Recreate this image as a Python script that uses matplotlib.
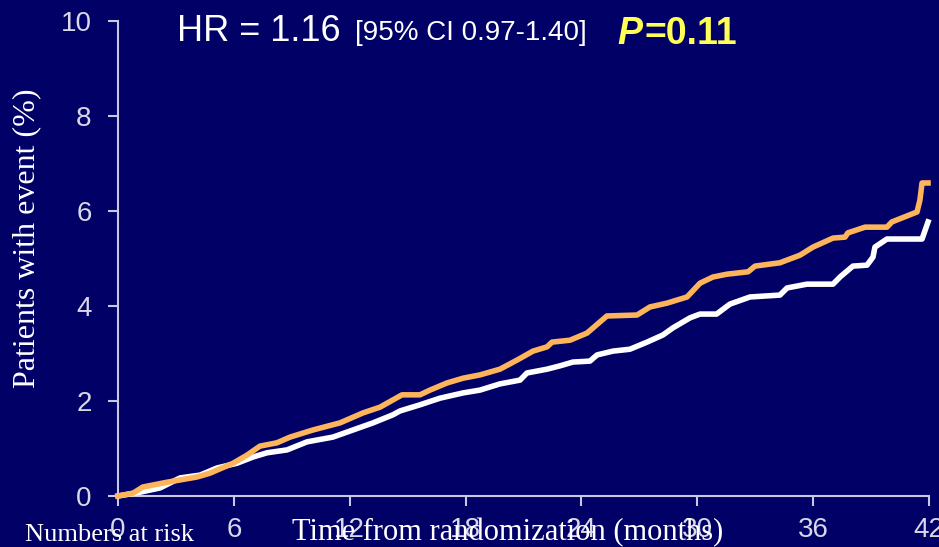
import matplotlib
matplotlib.use('Agg')
import matplotlib.pyplot as plt

# Kaplan-Meier style cumulative event curves (months, % with event)
orange_months = [0, 0.78, 1.29, 2.54, 4.09, 4.76, 5.96, 6.68, 7.35, 8.23, 8.91, 10.10,
                 11.50, 12.69, 13.57, 14.71, 15.64, 16.16, 17.04, 17.87, 18.75, 19.78,
                 20.66, 21.49, 22.22, 22.48, 23.41, 24.29, 25.32, 26.88, 27.55, 28.43,
                 29.47, 30.14, 30.81, 31.54, 32.63, 32.99, 34.28, 35.32, 35.99, 37.03,
                 37.65, 37.80, 38.69, 39.82, 40.08, 41.38, 41.53, 41.64, 41.95]
orange_pct = [0, 0.06, 0.19, 0.29, 0.40, 0.48, 0.69, 0.86, 1.05, 1.12, 1.24, 1.39,
              1.54, 1.75, 1.87, 2.13, 2.13, 2.23, 2.38, 2.48, 2.55, 2.67,
              2.86, 3.05, 3.14, 3.24, 3.28, 3.43, 3.79, 3.81, 3.98, 4.06,
              4.19, 4.48, 4.61, 4.67, 4.72, 4.84, 4.91, 5.07, 5.24, 5.43,
              5.45, 5.54, 5.66, 5.66, 5.77, 5.98, 6.23, 6.59, 6.59]

white_months = [0, 1.14, 2.18, 3.21, 4.25, 5.13, 6.16, 6.99, 7.72, 8.75, 9.79, 11.13,
                12.17, 13.21, 14.24, 14.60, 15.64, 16.68, 17.87, 18.75, 19.78, 20.82,
                21.18, 22.22, 22.89, 23.56, 24.44, 24.81, 25.63, 26.51, 27.40, 28.22,
                28.74, 29.62, 30.14, 31.0, 31.69, 32.73, 34.28, 34.65, 35.68, 37.03,
                37.39, 38.06, 38.79, 39.10, 39.20, 39.82, 41.64, 41.95]
white_pct = [0, 0.08, 0.17, 0.38, 0.44, 0.59, 0.69, 0.82, 0.91, 0.97, 1.14, 1.24,
             1.39, 1.54, 1.71, 1.79, 1.92, 2.06, 2.17, 2.23, 2.36, 2.44,
             2.59, 2.67, 2.74, 2.82, 2.84, 2.97, 3.05, 3.09, 3.24, 3.39,
             3.54, 3.75, 3.83, 3.83, 4.04, 4.19, 4.23, 4.38, 4.46, 4.46,
             4.61, 4.84, 4.86, 5.03, 5.24, 5.41, 5.41, 5.77]

x_ticks = [0, 6, 12, 18, 24, 30, 36, 42]
y_ticks = [0, 2, 4, 6, 8, 10]

bg = '#000066'
axis_col = '#C8C8E4'
W, H = 939, 547

fig = plt.figure(figsize=(W / 100, H / 100), dpi=100)
fig.patch.set_facecolor(bg)
ax = fig.add_axes([118 / W, 1 - 496 / H, (929 - 118) / W, (496 - 21) / H])
ax.set_facecolor(bg)

ax.plot(white_months, white_pct, color='white', lw=4,
        solid_joinstyle='round', clip_on=False, zorder=3)
ax.plot(orange_months, orange_pct, color='#FDB45A', lw=4,
        solid_joinstyle='round', clip_on=False, zorder=4)

ax.set_xlim(0, 42)
ax.set_ylim(0, 10)
ax.set_xticks(x_ticks)
ax.set_yticks(y_ticks)
for s in ['top', 'right']:
    ax.spines[s].set_visible(False)
for s in ['left', 'bottom']:
    ax.spines[s].set_color(axis_col)
    ax.spines[s].set_linewidth(1.5)
ax.tick_params(colors=axis_col, length=7, width=1.5, labelcolor='#D8D8E8',
               labelsize=20)
ax.tick_params(axis='y', pad=12)
ax.tick_params(axis='x', pad=8)
for lab in ax.get_xticklabels() + ax.get_yticklabels():
    lab.set_family('Liberation Sans')

serif = 'Liberation Serif'
fig.text(27 / W, 1 - 238 / H, 'Patients with event (%)', rotation=90, color='white',
         family=serif, fontsize=23, ha='center', va='center')
fig.text(508 / W, 1 - 540 / H, 'Time from randomization (months)', color='white',
         family=serif, fontsize=22, ha='center', va='baseline')
fig.text(25 / W, 1 - 541 / H, 'Numbers at risk', color='white',
         family=serif, fontsize=19, ha='left', va='baseline')

sans = 'Liberation Sans'
fig.text(177 / W, 1 - 41 / H, 'HR = 1.16', color='white', family=sans, fontsize=26,
         va='baseline')
fig.text(355 / W, 1 - 40 / H, '[95% CI 0.97-1.40]', color='white', family=sans,
         fontsize=20, va='baseline')
fig.text(617 / W, 1 - 44 / H, 'P', color='#FFFF55', family=sans, fontsize=27,
         fontweight='bold', fontstyle='italic', va='baseline')
fig.text(644 / W, 1 - 44 / H, '=0.11', color='#FFFF55', family=sans, fontsize=27,
         fontweight='bold', va='baseline')

fig.savefig('out.png', dpi=100, facecolor=bg)
